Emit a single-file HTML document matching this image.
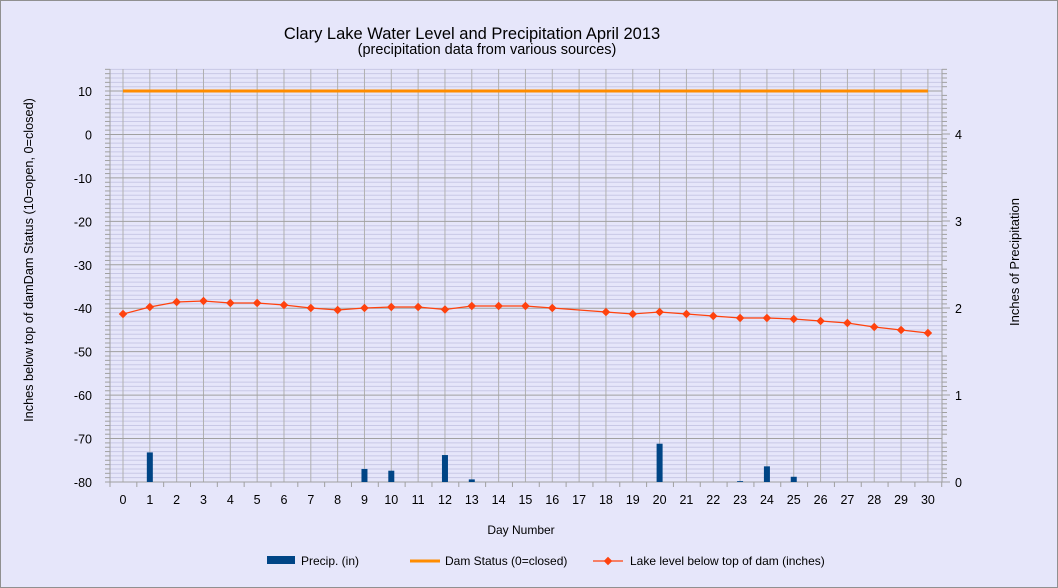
<!DOCTYPE html>
<html><head><meta charset="utf-8"><style>
body{margin:0;background:#e6e6fa;}
svg{display:block;font-family:"Liberation Sans",sans-serif;}
</style></head><body>
<svg width="1058" height="588" viewBox="0 0 1058 588" xmlns="http://www.w3.org/2000/svg">
<rect x="0.5" y="0.5" width="1057" height="587" fill="#e6e6fa" stroke="#909090"/>
<text x="472" y="39" font-size="16.5" text-anchor="middle">Clary Lake Water Level and Precipitation April 2013</text>
<text x="487" y="54" font-size="14.5" text-anchor="middle">(precipitation data from various sources)</text>
<g id="grid"></g>
<g id="data"></g>
<text x="33" y="260" font-size="12.7" text-anchor="middle" transform="rotate(-90 33 260)">Inches  below top of  damDam Status (10=open, 0=closed)</text>
<text x="1019" y="262" font-size="13" text-anchor="middle" transform="rotate(-90 1019 262)">Inches  of  Precipitation</text>
<text x="521" y="534" font-size="12" text-anchor="middle">Day Number</text>
<rect x="267" y="556" width="28" height="8" fill="#004586"/>
<text x="301" y="565" font-size="12">Precip. (in)</text>
<line x1="410" y1="561" x2="440" y2="561" stroke="#ff8c00" stroke-width="3"/>
<text x="445" y="565" font-size="12">Dam Status (0=closed)</text>
<line x1="593" y1="561" x2="623" y2="561" stroke="#ff420e" stroke-width="1.2"/>
<rect x="605" y="558" width="6" height="6" fill="#ff420e" transform="rotate(45 608 561)"/>
<text x="630" y="565" font-size="12">Lake level below top of dam (inches)</text>
</svg>
<script>
const ns="http://www.w3.org/2000/svg";
const g=document.getElementById('grid'),d=document.getElementById('data');
function el(t,a,p){const e=document.createElementNS(ns,t);for(const k in a)e.setAttribute(k,a[k]);(p||g).appendChild(e);return e;}
const L=110,R=942,T=69,B=482;
const yL=v=>482-(v+80)*4.344;
const x=dd=>123+dd*26.83;
for(let v=-80;v<=15;v++){const y=yL(v);if(v%10){el('line',{x1:L,x2:R,y1:y,y2:y,stroke:'#c8c8e6','stroke-width':1});el('line',{x1:L-5,x2:L,y1:y,y2:y,stroke:'#a0a0a0'});el('line',{x1:R,x2:R+5,y1:y,y2:y,stroke:'#a0a0a0'});}}
for(let dd=0;dd<=30;dd++)el('line',{x1:x(dd),x2:x(dd),y1:T,y2:B,stroke:'#b0b0b0'});
for(let v=-80;v<=10;v+=10){const y=yL(v);el('line',{x1:L-5,x2:R,y1:y,y2:y,stroke:'#a0a0a0'});const t=el('text',{x:L-18,y:y+5,'font-size':12.5,'text-anchor':'end'});t.textContent=v;}
for(let i=0;i<=4;i++){const y=482-i*87;el('line',{x1:R,x2:R+8,y1:y,y2:y,stroke:'#a0a0a0'});const t=el('text',{x:R+13,y:y+5,'font-size':12.5});t.textContent=i;}
el('line',{x1:L,x2:L,y1:T,y2:B,stroke:'#a0a0a0'});el('line',{x1:R,x2:R,y1:T,y2:B,stroke:'#a0a0a0'});
for(let dd=0;dd<=31;dd++){const xx=L+dd*26.83;el('line',{x1:xx,x2:xx,y1:B,y2:B+5,stroke:'#a0a0a0'});}
for(let dd=0;dd<=30;dd++){const t=el('text',{x:x(dd),y:B+22,'font-size':12.5,'text-anchor':'middle'});t.textContent=dd;}
const pr={1:.34,9:.15,10:.13,12:.31,13:.03,20:.44,23:.01,24:.18,25:.06};
for(const k in pr){const h=pr[k]*87;el('rect',{x:x(+k)-3,y:B-h,width:6,height:h,fill:'#004586'},d);}
el('line',{x1:x(0),x2:x(30),y1:91,y2:91,stroke:'#ff8c00','stroke-width':3},d);
const ly=[314,307,302,301,303,303,305,308,310,308,307,307,309.5,306,306,306,308,310,312,314,312,314,316,318,318,319,321,323,327,330,333];
el('polyline',{points:ly.map((y,i)=>x(i)+','+y).join(' '),fill:'none',stroke:'#ff420e','stroke-width':1.2},d);
ly.forEach((y,i)=>{if(i!==17)el('rect',{x:x(i)-3,y:y-3,width:6,height:6,fill:'#ff420e',transform:`rotate(45 ${x(i)} ${y})`},d);});
</script>
</body></html>
